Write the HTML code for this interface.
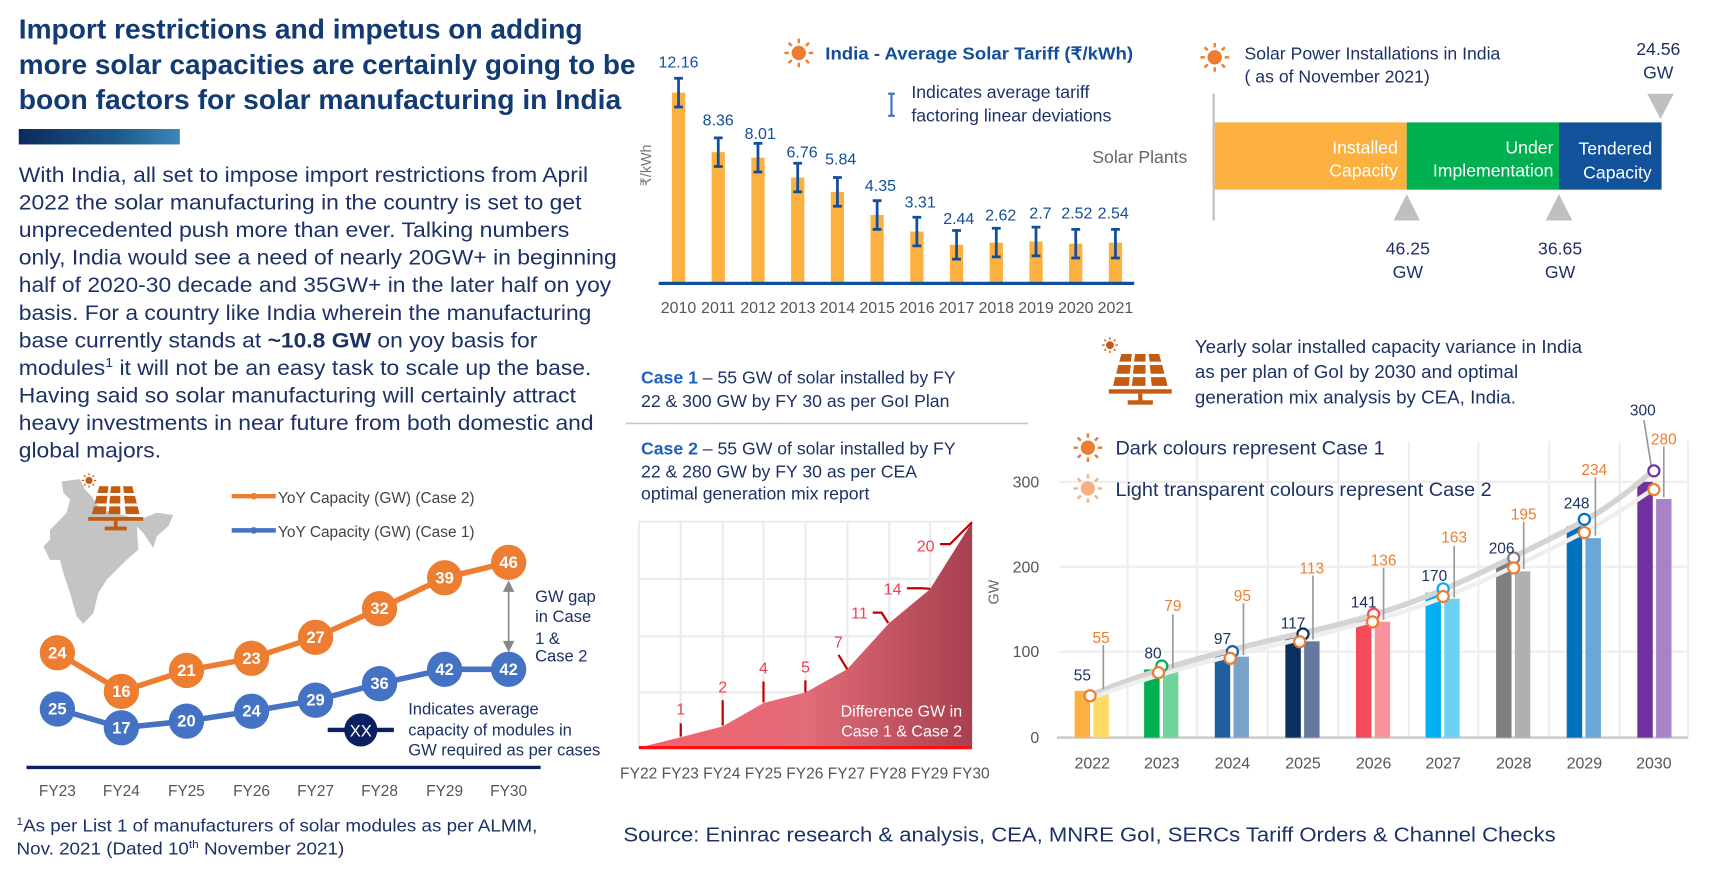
<!DOCTYPE html>
<html><head><meta charset="utf-8"><style>
html,body{margin:0;padding:0;background:#fff;}
svg{display:block;}
text{font-family:"Liberation Sans",Arial,sans-serif;}
.nv{fill:#1c3166;}
.gr{fill:#555;}
</style></head><body>
<svg width="1730" height="870" viewBox="0 0 1568 789" preserveAspectRatio="none" xmlns="http://www.w3.org/2000/svg">
<defs>
<linearGradient id="tb" x1="0" x2="1"><stop offset="0" stop-color="#0b2a5c"/><stop offset="0.6" stop-color="#1b5a8a"/><stop offset="1" stop-color="#3d86b8"/></linearGradient>
<linearGradient id="ar" x1="0" x2="1"><stop offset="0" stop-color="#f5606e"/><stop offset="0.5" stop-color="#e26c78"/><stop offset="1" stop-color="#a8404f"/></linearGradient>
<g id="sun"><circle r="6"/><g stroke-width="2.2"><line x1="0" y1="-9" x2="0" y2="-13"/><line x1="0" y1="9" x2="0" y2="13"/><line x1="-9" y1="0" x2="-13" y2="0"/><line x1="9" y1="0" x2="13" y2="0"/><line x1="6.4" y1="6.4" x2="9.2" y2="9.2"/><line x1="-6.4" y1="6.4" x2="-9.2" y2="9.2"/><line x1="6.4" y1="-6.4" x2="9.2" y2="-9.2"/><line x1="-6.4" y1="-6.4" x2="-9.2" y2="-9.2"/></g></g>
<g id="panel" fill="#c55a11">
<polygon points="12,0 22,0 21,7 10,7"/><polygon points="25,0 35,0 35,7 24,7"/><polygon points="38,0 48,0 50,7 39,7"/>
<polygon points="9,10 21,10 20,18 7,18"/><polygon points="24,10 35,10 35,18 23,18"/><polygon points="39,10 51,10 53,18 40,18"/>
<polygon points="6,21 20,21 19,29 4,29"/><polygon points="23,21 35,21 35,29 22,29"/><polygon points="40,21 54,21 56,29 41,29"/>
<rect x="0" y="32" width="60" height="4"/><rect x="28" y="36" width="4" height="7"/><rect x="18" y="42" width="24" height="4"/>
</g>
</defs>

<!-- Title -->
<g font-weight="bold" fill="#123a73" font-size="25">
<text x="17" y="35" textLength="511" lengthAdjust="spacingAndGlyphs">Import restrictions and impetus on adding</text>
<text x="17" y="67" textLength="559" lengthAdjust="spacingAndGlyphs">more solar capacities are certainly going to be</text>
<text x="17" y="99" textLength="546" lengthAdjust="spacingAndGlyphs">boon factors for solar manufacturing in India</text>
</g>
<rect x="17" y="117" width="146" height="14" fill="url(#tb)"/>

<!-- Paragraph -->
<g font-size="19.5" class="nv">
<text x="17" y="165" textLength="516" lengthAdjust="spacingAndGlyphs">With India, all set to impose import restrictions from April</text>
<text x="17" y="190" textLength="510" lengthAdjust="spacingAndGlyphs">2022 the solar manufacturing in the country is set to get</text>
<text x="17" y="215" textLength="499" lengthAdjust="spacingAndGlyphs">unprecedented push more than ever. Talking numbers</text>
<text x="17" y="240" textLength="542" lengthAdjust="spacingAndGlyphs">only, India would see a need of nearly 20GW+ in beginning</text>
<text x="17" y="265" textLength="537" lengthAdjust="spacingAndGlyphs">half of 2020-30 decade and 35GW+ in the later half on yoy</text>
<text x="17" y="290" textLength="519" lengthAdjust="spacingAndGlyphs">basis. For a country like India wherein the manufacturing</text>
<text x="17" y="315" textLength="470" lengthAdjust="spacingAndGlyphs">base currently stands at <tspan font-weight="bold">~10.8 GW</tspan> on yoy basis for</text>
<text x="17" y="340" textLength="519" lengthAdjust="spacingAndGlyphs">modules<tspan font-size="12" dy="-7">1</tspan><tspan dy="7"> it will not be an easy task to scale up the base.</tspan></text>
<text x="17" y="365" textLength="505" lengthAdjust="spacingAndGlyphs">Having said so solar manufacturing will certainly attract</text>
<text x="17" y="390" textLength="521" lengthAdjust="spacingAndGlyphs">heavy investments in near future from both domestic and</text>
<text x="17" y="415" textLength="129" lengthAdjust="spacingAndGlyphs">global majors.</text>
</g>

<!-- Tariff chart -->
<use href="#sun" x="724" y="48" fill="#ed7d31" stroke="#ed7d31"/>
<text x="748" y="54" font-size="16" font-weight="bold" fill="#114e9b" textLength="279" lengthAdjust="spacingAndGlyphs">India - Average Solar Tariff (₹/kWh)</text>
<g stroke="#4472c4" stroke-width="2"><line x1="808" y1="85" x2="808" y2="105"/><line x1="805" y1="85" x2="811" y2="85"/><line x1="805" y1="105" x2="811" y2="105"/></g>
<text x="826" y="89" font-size="16" class="nv">Indicates average tariff</text>
<text x="826" y="110" font-size="16" class="nv">factoring linear deviations</text>
<text transform="translate(590,150) rotate(-90)" font-size="13" fill="#777" text-anchor="middle">₹/kWh</text>
<g id="tariff">
<g fill="#fbb040">
<rect x="609" y="84" width="12" height="173"/><rect x="645" y="138" width="12" height="119"/><rect x="681" y="143" width="12" height="114"/><rect x="717" y="161" width="12" height="96"/><rect x="753" y="174" width="12" height="83"/><rect x="789" y="195" width="12" height="62"/><rect x="825" y="210" width="12" height="47"/><rect x="861" y="222" width="12" height="35"/><rect x="897" y="220" width="12" height="37"/><rect x="933" y="219" width="12" height="38"/><rect x="969" y="221" width="12" height="36"/><rect x="1005" y="220" width="12" height="37"/>
</g>
<g stroke="#114e9b" stroke-width="2.5" fill="none">
<path d="M615 71V97M611 71h8M611 97h8"/><path d="M651 125V151M647 125h8M647 151h8"/><path d="M687 130V156M683 130h8M683 156h8"/><path d="M723 148V174M719 148h8M719 174h8"/><path d="M759 161V187M755 161h8M755 187h8"/><path d="M795 182V208M791 182h8M791 208h8"/><path d="M831 197V223M827 197h8M827 223h8"/><path d="M867 209V235M863 209h8M863 235h8"/><path d="M903 207V233M899 207h8M899 233h8"/><path d="M939 206V232M935 206h8M935 232h8"/><path d="M975 208V234M971 208h8M971 234h8"/><path d="M1011 208V234M1007 208h8M1007 234h8"/>
</g>
<g font-size="14.5" fill="#114e9b" text-anchor="middle">
<text x="615" y="61">12.16</text><text x="651" y="114">8.36</text><text x="689" y="126">8.01</text><text x="727" y="143">6.76</text><text x="762" y="149">5.84</text><text x="798" y="173">4.35</text><text x="834" y="188">3.31</text><text x="869" y="203">2.44</text><text x="907" y="200">2.62</text><text x="943" y="198">2.7</text><text x="976" y="198">2.52</text><text x="1009" y="198">2.54</text>
</g>
<line x1="597" y1="257" x2="1028" y2="257" stroke="#114e9b" stroke-width="3"/>
<g font-size="14.5" class="gr" text-anchor="middle">
<text x="615" y="284">2010</text><text x="651" y="284">2011</text><text x="687" y="284">2012</text><text x="723" y="284">2013</text><text x="759" y="284">2014</text><text x="795" y="284">2015</text><text x="831" y="284">2016</text><text x="867" y="284">2017</text><text x="903" y="284">2018</text><text x="939" y="284">2019</text><text x="975" y="284">2020</text><text x="1011" y="284">2021</text>
</g>
</g>

<!-- Installations -->
<use href="#sun" x="1101" y="52" fill="#ed7d31" stroke="#ed7d31"/>
<text x="1128" y="54" font-size="16" class="nv">Solar Power Installations in India</text>
<text x="1128" y="75" font-size="16" class="nv">( as of November 2021)</text>
<text x="1503" y="50" font-size="16" class="nv" text-anchor="middle">24.56</text>
<text x="1503" y="71" font-size="16" class="nv" text-anchor="middle">GW</text>
<polygon points="1493,85 1517,85 1505,108" fill="#bfbfbf"/>
<line x1="1100" y1="85" x2="1100" y2="200" stroke="#bfbfbf" stroke-width="2"/>
<rect x="1101" y="111" width="174" height="61" fill="#fbb040"/>
<rect x="1275" y="111" width="138" height="61" fill="#00b050"/>
<rect x="1413" y="111" width="93" height="61" fill="#11529b"/>
<g font-size="16" fill="#fff">
<text x="1267" y="139" text-anchor="end">Installed</text><text x="1267" y="160" text-anchor="end">Capacity</text>
<text x="1408" y="139" text-anchor="end">Under</text><text x="1408" y="160" text-anchor="end">Implementation</text>
<text x="1464" y="140" text-anchor="middle">Tendered</text><text x="1466" y="162" text-anchor="middle">Capacity</text>
</g>
<text x="990" y="148" font-size="16" fill="#666">Solar Plants</text>
<polygon points="1263,200 1287,200 1275,176" fill="#bfbfbf"/>
<polygon points="1401,200 1425,200 1413,176" fill="#bfbfbf"/>
<g font-size="16" class="nv" text-anchor="middle">
<text x="1276" y="231">46.25</text><text x="1276" y="252">GW</text>
<text x="1414" y="231">36.65</text><text x="1414" y="252">GW</text>
</g>

<!-- Cases -->
<g font-size="16" class="nv">
<text x="581" y="348"><tspan font-weight="bold" fill="#1f5fbf">Case 1</tspan> – 55 GW of solar installed by FY</text>
<text x="581" y="369">22 &amp;  300 GW by FY 30 as per GoI Plan</text>
<text x="581" y="412"><tspan font-weight="bold" fill="#1f5fbf">Case 2</tspan> – 55 GW of solar installed by FY</text>
<text x="581" y="433">22 &amp;  280 GW by FY 30 as per CEA</text>
<text x="581" y="453">optimal generation mix report</text>
</g>
<line x1="567" y1="384" x2="932" y2="384" stroke="#c8c8c8" stroke-width="1.5"/>

<!-- Difference area chart -->
<g stroke="#ececec" stroke-width="2">
<path d="M579 473H881M579 525H881M579 577H881M579 628H881"/>
<path d="M579 473V678M617 473V678M655 473V678M692 473V678M730 473V678M768 473V678M806 473V678M843 473V678M881 473V678"/>
</g>
<polygon points="579,678 617,668.6 655,658.8 692,637.6 730,628 768,606.8 806,565 843,534.3 881,473.6 881,678" fill="url(#ar)"/>
<line x1="579" y1="678" x2="881" y2="678" stroke="#ff1010" stroke-width="3"/>
<g stroke="#c00000" stroke-width="2" fill="none">
<path d="M617 656V668"/><path d="M655 635V658"/><path d="M692 618V637"/><path d="M730 617V628"/><path d="M760 594L768 607"/><path d="M791 555.6H799L805 565"/><path d="M822 533.5H835L843 534"/><path d="M852 493.5H861L881 473.6"/>
</g>
<g font-size="14.5" fill="#f04050" text-anchor="middle">
<text x="617" y="648">1</text><text x="655" y="628">2</text><text x="692" y="611">4</text><text x="730" y="610">5</text><text x="760" y="587">7</text><text x="779" y="561">11</text><text x="809" y="539">14</text><text x="839" y="500">20</text>
</g>
<text x="872" y="650" font-size="14.5" fill="#fff" text-anchor="end">Difference GW in</text>
<text x="872" y="668" font-size="14.5" fill="#fff" text-anchor="end">Case 1 &amp; Case 2</text>
<text x="562" y="706" font-size="14" class="gr" textLength="335" lengthAdjust="spacingAndGlyphs">FY22 FY23 FY24 FY25 FY26 FY27 FY28 FY29 FY30</text>

<!-- Right chart header -->
<use href="#panel" transform="translate(1005,321) scale(0.95,1)"/>
<use href="#sun" transform="translate(1006,313) scale(0.55)" fill="#c55a11" stroke="#c55a11"/>
<g font-size="17" class="nv">
<text x="1083" y="320">Yearly solar installed capacity variance in India</text>
<text x="1083" y="343">as per plan of GoI by 2030 and optimal</text>
<text x="1083" y="366">generation mix analysis by CEA, India.</text>
</g>

<!-- Right chart -->
<g stroke="#eeeeee" stroke-width="2">
<path d="M960 437H1530M960 514H1530M960 591H1530"/>
<path d="M1022 400V669M1085 400V669M1149 400V669M1213 400V669M1277 400V669M1340 400V669M1404 400V669M1468 400V669M1530 400V669"/>
</g>
<line x1="958" y1="669" x2="1530" y2="669" stroke="#d0d0d0" stroke-width="2.5"/>
<g font-size="14.5" class="gr" text-anchor="end">
<text x="942" y="442">300</text><text x="942" y="519">200</text><text x="942" y="596">100</text><text x="942" y="674">0</text>
</g>
<text transform="translate(905,537) rotate(-90)" font-size="13" fill="#666" text-anchor="middle">GW</text>
<use href="#sun" x="986" y="406" fill="#ed7d31" stroke="#ed7d31"/>
<use href="#sun" x="986" y="443" fill="#f4b183" stroke="#f4b183"/>
<text x="1011" y="412" font-size="18" class="nv">Dark colours represent Case 1</text>
<text x="1011" y="450" font-size="18" class="nv">Light transparent colours represent Case 2</text>

<g>
<rect x="974" y="626.5" width="14" height="42.5" fill="#fbb040"/><rect x="991" y="626.5" width="14" height="42.5" fill="#ffd966"/>
<rect x="1037" y="607.1" width="14" height="61.9" fill="#00b050"/><rect x="1054" y="607.9" width="14" height="61.1" fill="#6fd39a"/>
<rect x="1101" y="594" width="14" height="75" fill="#1f5fa0"/><rect x="1118" y="595.5" width="14" height="73.5" fill="#7aa3c9"/>
<rect x="1165" y="578.5" width="14" height="90.5" fill="#0a3060"/><rect x="1182" y="581.6" width="14" height="87.4" fill="#6478a0"/>
<rect x="1229" y="560" width="14" height="109" fill="#f44a5a"/><rect x="1246" y="563.8" width="14" height="105.2" fill="#f7939c"/>
<rect x="1292" y="537.5" width="14" height="131.5" fill="#00b0f0"/><rect x="1309" y="543" width="14" height="126" fill="#6cd2f4"/>
<rect x="1356" y="509.7" width="14" height="159.3" fill="#7f7f7f"/><rect x="1373" y="518.2" width="14" height="150.8" fill="#b0b0b0"/>
<rect x="1420" y="477.2" width="14" height="191.8" fill="#0070c0"/><rect x="1437" y="488" width="14" height="181" fill="#69a7d9"/>
<rect x="1484" y="437" width="14" height="232" fill="#7030a0"/><rect x="1501" y="452.5" width="14" height="216.5" fill="#a983c8"/>
</g>
<path d="M988 631 C1030 612,1100 592,1181 574 S1300 540,1372 505 S1460 460,1499 426" fill="none" stroke="#d4d4d4" stroke-width="5"/>
<path d="M988 634 C1030 616,1100 598,1181 579 S1300 548,1372 514 S1460 470,1499 443" fill="none" stroke="#eeeeee" stroke-width="4"/>
<g stroke="#999" stroke-width="1.5">
<path d="M1000 585V625"/><path d="M1063 557V606"/><path d="M1127 547V594"/><path d="M1190 522V580"/><path d="M1254 515V562"/><path d="M1318 495V542"/><path d="M1381 473V516"/><path d="M1446 433V486"/><path d="M1508 405V451"/><path d="M1490 381L1497 425"/>
</g>
<g fill="#fff" stroke-width="2">
<circle cx="1053" cy="604" r="5" stroke="#00b050"/><circle cx="1117" cy="591" r="5" stroke="#1f5fa0"/><circle cx="1181" cy="575" r="5" stroke="#0a3060"/><circle cx="1245" cy="557" r="5" stroke="#f44a5a"/><circle cx="1308" cy="534" r="5" stroke="#00b0f0"/><circle cx="1372" cy="506" r="5" stroke="#7f7f7f"/><circle cx="1436" cy="471" r="5" stroke="#0070c0"/><circle cx="1499" cy="427" r="5" stroke="#7030a0"/>
<g stroke="#ed7d31"><circle cx="988" cy="631" r="5"/><circle cx="1050" cy="610" r="5"/><circle cx="1115" cy="597" r="5"/><circle cx="1178" cy="582" r="5"/><circle cx="1244" cy="564" r="5"/><circle cx="1308" cy="541" r="5"/><circle cx="1372" cy="515" r="5"/><circle cx="1436" cy="483" r="5"/><circle cx="1499" cy="444" r="5"/></g>
</g>
<g font-size="14" class="nv" text-anchor="middle">
<text x="981" y="617">55</text><text x="1045" y="597">80</text><text x="1108" y="584">97</text><text x="1172" y="570">117</text><text x="1236" y="551">141</text><text x="1300" y="527">170</text><text x="1361" y="502">206</text><text x="1429" y="461">248</text><text x="1489" y="377">300</text>
</g>
<g font-size="14" fill="#ed7d31" text-anchor="middle">
<text x="998" y="583">55</text><text x="1063" y="554">79</text><text x="1126" y="545">95</text><text x="1189" y="520">113</text><text x="1254" y="513">136</text><text x="1318" y="492">163</text><text x="1381" y="471">195</text><text x="1445" y="431">234</text><text x="1508" y="403">280</text>
</g>
<g font-size="14.5" class="gr" text-anchor="middle">
<text x="990" y="697">2022</text><text x="1053" y="697">2023</text><text x="1117" y="697">2024</text><text x="1181" y="697">2025</text><text x="1245" y="697">2026</text><text x="1308" y="697">2027</text><text x="1372" y="697">2028</text><text x="1436" y="697">2029</text><text x="1499" y="697">2030</text>
</g>

<!-- Lower-left chart -->
<path d="M55.9,436.6 L72.5,434.5 L77,444 L83,450 L90.7,462 L127,471 L142,465 L157,467 L152.6,477 L142,486.5 L139,497 L130,483.5 L124,477.4 L125.4,498.6 L114.8,507.7 L96.7,525.8 L89,538 L84.6,556 L75.5,565.7 L69.5,559 L63.5,538 L57.4,519.7 L54.4,507.7 L45.3,507.7 L39.3,495.6 L45.3,489.5 L45.3,480.5 L51.4,474.4 L60.4,465 L63.5,453 L57.4,447 Z" fill="#c4c4c4"/>
<use href="#panel" transform="translate(80,441) scale(0.83,0.87)"/>
<use href="#sun" transform="translate(80.7,435.7) scale(0.5)" fill="#c55a11" stroke="#c55a11"/>
<line x1="210" y1="450" x2="250" y2="450" stroke="#ed7d31" stroke-width="4"/><circle cx="230" cy="450" r="3" fill="#ed7d31"/>
<line x1="210" y1="481" x2="250" y2="481" stroke="#4472c4" stroke-width="4"/><circle cx="230" cy="481" r="3" fill="#4472c4"/>
<text x="252" y="456" font-size="14" fill="#444">YoY Capacity (GW) (Case 2)</text>
<text x="252" y="487" font-size="14" fill="#444">YoY Capacity (GW) (Case 1)</text>
<polyline points="52,592 110,627 169,608 228,597 286,578 344,552 403,524 461,510" fill="none" stroke="#ed7d31" stroke-width="5"/>
<polyline points="52,643 110,660 169,654 228,645 286,635 344,620 403,607 461,607" fill="none" stroke="#4472c4" stroke-width="5"/>
<g fill="#ed7d31"><circle cx="52" cy="592" r="16"/><circle cx="110" cy="627" r="16"/><circle cx="169" cy="608" r="16"/><circle cx="228" cy="597" r="16"/><circle cx="286" cy="578" r="16"/><circle cx="344" cy="552" r="16"/><circle cx="403" cy="524" r="16"/><circle cx="461" cy="510" r="16"/></g>
<g fill="#4472c4"><circle cx="52" cy="643" r="16"/><circle cx="110" cy="660" r="16"/><circle cx="169" cy="654" r="16"/><circle cx="228" cy="645" r="16"/><circle cx="286" cy="635" r="16"/><circle cx="344" cy="620" r="16"/><circle cx="403" cy="607" r="16"/><circle cx="461" cy="607" r="16"/></g>
<g font-size="15" font-weight="bold" fill="#fff" text-anchor="middle">
<text x="52" y="597">24</text><text x="110" y="632">16</text><text x="169" y="613">21</text><text x="228" y="602">23</text><text x="286" y="583">27</text><text x="344" y="557">32</text><text x="403" y="529">39</text><text x="461" y="515">46</text>
<text x="52" y="648">25</text><text x="110" y="665">17</text><text x="169" y="659">20</text><text x="228" y="650">24</text><text x="286" y="640">29</text><text x="344" y="625">36</text><text x="403" y="612">42</text><text x="461" y="612">42</text>
</g>
<g stroke="#888" stroke-width="1.5" fill="#888"><line x1="461" y1="532" x2="461" y2="586"/><polygon points="457,536 461,528 465,536"/><polygon points="457,582 461,590 465,582"/></g>
<g font-size="15" class="nv"><text x="485" y="546">GW gap</text><text x="485" y="564">in Case</text><text x="485" y="584">1 &amp;</text><text x="485" y="600">Case 2</text></g>
<line x1="297" y1="662" x2="357" y2="662" stroke="#0a2060" stroke-width="4"/>
<circle cx="327" cy="662" r="15" fill="#0a2060"/>
<text x="327" y="668" font-size="15" fill="#fff" text-anchor="middle">XX</text>
<g font-size="15" class="nv"><text x="370" y="648">Indicates average</text><text x="370" y="667">capacity of modules in</text><text x="370" y="685">GW required as per cases</text></g>
<line x1="24" y1="696" x2="490" y2="696" stroke="#0a2060" stroke-width="3"/>
<g font-size="14" class="gr" text-anchor="middle">
<text x="52" y="722">FY23</text><text x="110" y="722">FY24</text><text x="169" y="722">FY25</text><text x="228" y="722">FY26</text><text x="286" y="722">FY27</text><text x="344" y="722">FY28</text><text x="403" y="722">FY29</text><text x="461" y="722">FY30</text>
</g>
<g font-size="16" class="nv">
<text x="15" y="754" textLength="472" lengthAdjust="spacingAndGlyphs"><tspan font-size="10" dy="-6">1</tspan><tspan dy="6">As per List 1 of manufacturers of solar modules as per ALMM,</tspan></text>
<text x="15" y="775" textLength="297" lengthAdjust="spacingAndGlyphs">Nov. 2021 (Dated 10<tspan font-size="10" dy="-6">th</tspan><tspan dy="6"> November 2021)</tspan></text>
</g>
<text x="565" y="763" font-size="18.5" class="nv" textLength="845" lengthAdjust="spacingAndGlyphs">Source: Eninrac research &amp; analysis, CEA, MNRE GoI, SERCs Tariff Orders &amp; Channel Checks</text>
</svg>
</body></html>
